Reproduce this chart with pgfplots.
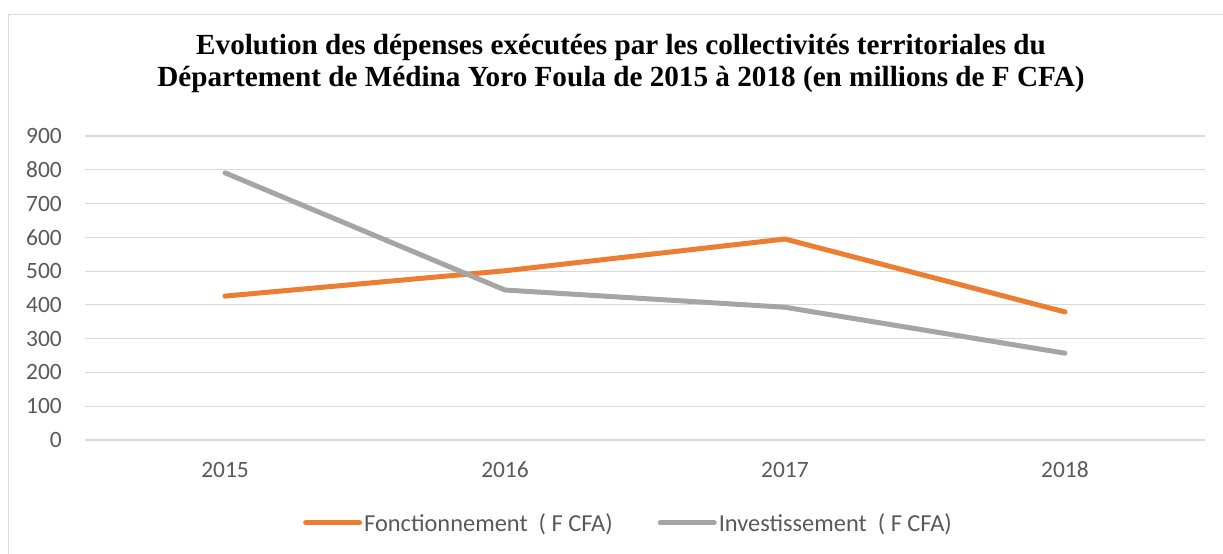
\documentclass[border=0pt]{standalone}
\usepackage{fontspec}
\setmainfont{Liberation Serif}
\newfontfamily\calibri{Carlito}
\usepackage{pgfplots}
\pgfplotsset{compat=1.18}
\definecolor{orangeS}{HTML}{ED7D31}
\definecolor{greyS}{HTML}{A5A5A5}
\definecolor{gridC}{HTML}{D9D9D9}
\definecolor{txtC}{HTML}{595959}
\begin{document}
\begin{tikzpicture}[x=1bp,y=1bp]
\useasboundingbox (0,0) rectangle (1223,554);
\begin{scope}
\clip (0,0) rectangle (1223,554);
\draw[gridC, line width=1.5bp] (8.5,-20) -- (8.5,539.5) -- (1240,539.5);
\end{scope}
\node[align=center, font=\fontsize{29.3}{33}\selectfont\bfseries] at (621,490.5)
  {Evolution des dépenses exécutées par les collectivités territoriales du\\
   Département de Médina Yoro Foula de 2015 à 2018 (en millions de F CFA)};
\begin{axis}[
  at={(85bp,114bp)}, anchor=south west,
  scale only axis, width=1120bp, height=304bp,
  xmin=-0.5, xmax=3.5, ymin=0, ymax=900,
  xtick={0,1,2,3}, xticklabels={2015,2016,2017,2018},
  ytick={0,100,...,900},
  axis line style={draw=none},
  axis x line*=bottom,
  x axis line style={draw=gridC, line width=1bp},
  tick style={draw=none},
  ymajorgrids, grid style={gridC, line width=1.2bp},
  /pgf/number format/assume math mode=true,
  /pgf/number format/1000 sep={},
  ticklabel style={font=\calibri\fontsize{23.5}{26}\selectfont, text=txtC, inner sep=0pt},
  yticklabel style={anchor=east, xshift=-23bp},
  xticklabel style={anchor=base, yshift=-38bp},
  legend columns=2,
  legend style={at={(0.1946,-0.273)}, anchor=west, draw=none, fill=none,
    inner sep=0pt, font=\calibri\fontsize{24.5}{27}\selectfont, text=txtC,
    /tikz/every even column/.append style={column sep=43bp}},
  legend cell align=left,
  legend image code/.code={\draw[#1, line cap=round] (0bp,0bp) -- (54bp,0bp);},
]
\addplot[orangeS, line width=5bp, line cap=round, line join=round] coordinates {(0,426) (1,501) (2,595) (3,379)};
\addlegendentry{Fonctionnement~ ( F CFA)}
\addplot[greyS, line width=5bp, line cap=round, line join=round] coordinates {(0,791) (1,444) (2,393) (3,257)};
\addlegendentry{Investissement~ ( F CFA)}
\end{axis}
\end{tikzpicture}
\end{document}
